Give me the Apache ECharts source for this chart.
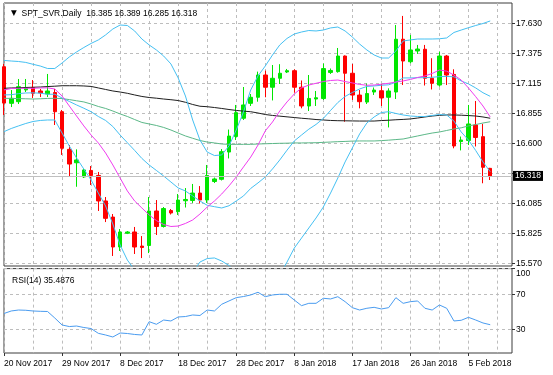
<!DOCTYPE html>
<html><head><meta charset="utf-8">
<script src="https://cdn.jsdelivr.net/npm/echarts@6/dist/echarts.min.js"></script>
<style>html,body{margin:0;padding:0;background:#fff}#c{width:553px;height:375px}</style>
</head><body><div id="c"></div>
<script>
const symbol = 'SPT_SVR.Daily';
const dates = ['20 Nov 2017','21 Nov 2017','22 Nov 2017','23 Nov 2017','24 Nov 2017','26 Nov 2017','27 Nov 2017','28 Nov 2017',
 '29 Nov 2017','30 Nov 2017','1 Dec 2017','3 Dec 2017','4 Dec 2017','5 Dec 2017','6 Dec 2017','7 Dec 2017',
 '8 Dec 2017','10 Dec 2017','11 Dec 2017','12 Dec 2017','13 Dec 2017','14 Dec 2017','15 Dec 2017','17 Dec 2017',
 '18 Dec 2017','19 Dec 2017','20 Dec 2017','21 Dec 2017','22 Dec 2017','24 Dec 2017','26 Dec 2017','27 Dec 2017',
 '28 Dec 2017','29 Dec 2017','31 Dec 2017','2 Jan 2018','3 Jan 2018','4 Jan 2018','5 Jan 2018','7 Jan 2018',
 '8 Jan 2018','9 Jan 2018','10 Jan 2018','11 Jan 2018','12 Jan 2018','14 Jan 2018','15 Jan 2018','16 Jan 2018',
 '17 Jan 2018','18 Jan 2018','19 Jan 2018','21 Jan 2018','22 Jan 2018','23 Jan 2018','24 Jan 2018','25 Jan 2018',
 '26 Jan 2018','28 Jan 2018','29 Jan 2018','30 Jan 2018','31 Jan 2018','1 Feb 2018','2 Feb 2018','4 Feb 2018',
 '5 Feb 2018','6 Feb 2018','7 Feb 2018','8 Feb 2018'];
const padDates = ['', '', ''];

const open = [17.257,16.943,16.957,17.058,17.079,17.049,17.023,17.036,
 16.871,16.548,16.433,16.311,16.367,16.324,16.105,15.967,
 15.710,15.828,15.839,15.718,15.723,16.019,15.886,16.023,
 16.013,16.107,16.109,16.173,16.113,16.272,16.291,16.525,
 16.658,16.815,16.943,16.995,17.186,17.081,17.158,17.212,
 17.223,17.081,16.920,16.980,16.984,17.208,17.215,17.349,
 17.201,17.014,16.954,17.040,17.051,16.995,17.040,17.493,
 17.300,17.392,17.407,17.158,17.100,17.349,17.191,16.615,
 16.624,16.757,16.657,16.385];
const high = [17.281,17.057,17.152,17.152,17.143,17.066,17.195,17.066,
 16.886,16.585,16.548,16.379,16.405,16.354,16.139,15.993,
 15.864,15.847,15.882,15.804,16.139,16.113,16.053,16.036,
 16.165,16.216,16.251,16.233,16.414,16.306,16.551,16.718,
 16.929,17.083,17.023,17.215,17.223,17.272,17.279,17.238,
 17.235,17.139,17.186,17.049,17.285,17.242,17.418,17.354,
 17.281,17.057,17.113,17.079,17.109,17.072,17.615,17.693,
 17.530,17.444,17.444,17.330,17.386,17.358,17.235,16.658,
 16.929,16.963,16.766,16.389];
const low = [16.843,16.911,16.937,17.040,16.989,16.997,16.997,16.757,
 16.500,16.313,16.227,16.302,16.242,16.019,15.924,15.633,
 15.676,15.821,15.650,15.615,15.658,15.813,15.877,15.989,
 15.985,16.049,16.088,16.083,16.088,16.259,16.281,16.470,
 16.628,16.800,16.920,16.957,16.995,16.968,17.109,17.203,
 17.034,16.900,16.877,16.920,16.972,17.195,17.206,16.785,
 16.972,16.900,16.937,17.015,16.920,16.736,16.980,17.100,
 17.287,17.367,17.096,17.062,17.086,17.100,16.557,16.539,
 16.585,16.573,16.257,16.285];
const close = [16.945,16.986,17.086,17.079,17.029,17.032,17.049,16.871,
 16.557,16.422,16.457,16.371,16.324,16.105,15.956,15.710,
 15.839,15.839,15.710,15.706,16.019,15.886,16.040,16.002,
 16.113,16.118,16.173,16.113,16.324,16.294,16.528,16.662,
 16.863,16.929,16.995,17.186,17.081,17.158,17.201,17.223,
 17.081,16.920,16.985,16.991,17.241,17.225,17.349,17.201,
 17.014,16.957,17.027,17.057,16.989,17.049,17.493,17.306,
 17.401,17.409,17.158,17.115,17.349,17.186,16.577,16.628,
 16.766,16.650,16.394,16.318];

const bbUpper = [17.311,17.306,17.302,17.294,17.278,17.263,17.242,17.242,
 17.289,17.341,17.384,17.422,17.457,17.487,17.530,17.581,
 17.615,17.611,17.564,17.495,17.444,17.401,17.349,17.281,
 17.161,17.006,16.800,16.628,16.525,16.495,16.500,16.577,
 16.714,16.869,17.058,17.178,17.263,17.358,17.444,17.500,
 17.538,17.555,17.568,17.564,17.572,17.590,17.598,17.564,
 17.512,17.452,17.401,17.358,17.332,17.332,17.392,17.478,
 17.487,17.495,17.495,17.495,17.497,17.504,17.551,17.572,
 17.592,17.611,17.628,17.650];
const bbMiddle = [17.015,17.017,17.026,17.032,17.033,17.030,17.021,17.021,
 16.989,16.959,16.929,16.901,16.871,16.830,16.796,16.744,
 16.671,16.605,16.539,16.470,16.414,16.367,16.319,16.268,
 16.217,16.191,16.148,16.105,16.068,16.056,16.045,16.064,
 16.105,16.148,16.213,16.260,16.311,16.380,16.457,16.541,
 16.620,16.671,16.721,16.762,16.813,16.882,16.950,17.002,
 17.036,17.066,17.088,17.092,17.098,17.102,17.124,17.161,
 17.161,17.163,17.163,17.167,17.172,17.174,17.171,17.135,
 17.110,17.075,17.034,17.003];
const bbLower = [16.700,16.727,16.749,16.770,16.787,16.796,16.800,16.800,
 16.688,16.577,16.474,16.379,16.285,16.173,16.062,15.907,
 15.727,15.598,15.513,15.444,15.384,15.332,15.289,15.255,
 15.272,15.375,15.495,15.581,15.611,15.616,15.590,15.551,
 15.495,15.427,15.367,15.341,15.358,15.401,15.470,15.581,
 15.701,15.787,15.873,15.959,16.053,16.173,16.302,16.440,
 16.560,16.680,16.774,16.826,16.864,16.871,16.856,16.843,
 16.834,16.830,16.830,16.839,16.847,16.843,16.791,16.697,
 16.628,16.538,16.440,16.356];
const maMagenta = [17.058,17.070,17.072,17.072,17.072,17.075,17.076,17.066,
 17.006,16.920,16.834,16.749,16.671,16.603,16.517,16.414,
 16.302,16.191,16.105,16.045,15.985,15.937,15.903,15.886,
 15.890,15.912,15.942,15.993,16.053,16.105,16.165,16.234,
 16.311,16.397,16.482,16.585,16.706,16.783,16.877,16.955,
 17.023,17.075,17.100,17.115,17.130,17.139,17.143,17.130,
 17.118,17.105,17.098,17.100,17.107,17.115,17.126,17.135,
 17.148,17.165,17.178,17.199,17.229,17.219,17.186,17.143,
 17.075,17.000,16.920,16.826];
const maGreen = [16.986,16.985,16.984,16.982,16.980,16.982,16.985,16.986,
 16.984,16.975,16.965,16.955,16.937,16.916,16.899,16.877,
 16.852,16.830,16.804,16.779,16.766,16.753,16.736,16.714,
 16.688,16.663,16.643,16.624,16.611,16.603,16.594,16.591,
 16.591,16.591,16.591,16.594,16.596,16.598,16.600,16.601,
 16.603,16.603,16.604,16.605,16.608,16.611,16.614,16.616,
 16.619,16.620,16.620,16.620,16.623,16.627,16.632,16.637,
 16.650,16.663,16.676,16.688,16.697,16.710,16.723,16.733,
 16.749,16.761,16.774,16.785];
const maBlack = [17.072,17.075,17.076,17.079,17.081,17.083,17.087,17.090,
 17.094,17.094,17.094,17.092,17.088,17.075,17.062,17.049,
 17.040,17.029,17.015,17.002,16.993,16.987,16.980,16.974,
 16.967,16.952,16.933,16.918,16.914,16.907,16.899,16.890,
 16.882,16.876,16.871,16.860,16.847,16.839,16.833,16.827,
 16.821,16.815,16.810,16.804,16.800,16.796,16.794,16.793,
 16.792,16.791,16.791,16.791,16.795,16.798,16.802,16.805,
 16.809,16.817,16.826,16.834,16.840,16.843,16.843,16.841,
 16.838,16.834,16.826,16.815];
const rsi = [48.4,51.3,52.4,52.1,51.3,50.9,50.7,43.2,
 35.2,33.4,34.0,32.3,31.1,25.6,23.7,21.4,
 26.0,25.4,24.3,23.7,39.0,36.0,40.9,39.8,
 44.4,44.9,46.7,46.1,52.4,51.3,59.0,62.8,
 66.6,67.9,69.7,72.8,67.7,69.7,70.5,70.5,
 63.9,57.4,60.1,60.1,65.9,65.1,67.7,62.0,
 55.1,52.4,54.4,55.5,53.6,55.1,66.6,60.1,
 62.0,62.8,54.4,52.4,58.2,54.4,39.8,40.6,
 44.0,40.9,37.5,35.4876];

const priceTicks = [15.570,15.8275,16.085,16.3425,16.600,16.8575,17.115,17.3725,17.630];
const priceTickLabels = ['15.570','15.825','16.085','','16.600','16.855','17.115','17.375','17.630'];
const rsiTicks = [30,70,100];
const rsiTickLabels = ['30','70','100'];

const FONT = 'Liberation Sans';
const last = close.length - 1;
const f3 = v => v.toFixed(3);
const cats = dates.concat(padDates);
const ohlc = open.map((o, i) => [o, close[i], low[i], high[i]]);

const gridLine = {show:true, lineStyle:{color:'#bdbdbd', type:[3,3], width:1}};
const lab = {fontFamily:FONT, fontSize:8.5, color:'#000'};
const pick = (ticks, labels) => v => {
  const i = ticks.findIndex(t => Math.abs(t - v) < 1e-6);
  return i >= 0 ? labels[i] : '';
};

const chart = echarts.init(document.getElementById('c'), null, {renderer:'canvas'});
chart.setOption({
  animation:false,
  backgroundColor:'#fff',
  title:[
    {left:6, top:4, text:'{tri|▼}  ' + symbol + '  ' + [open[last],high[last],low[last],close[last]].map(f3).join(' '),
     textStyle:Object.assign({fontWeight:'normal', rich:{tri:{fontSize:7.5, fontFamily:'DejaVu Sans', color:'#000'}}}, lab)},
    {left:7, top:271, text:'RSI(14) ' + rsi[last].toFixed(4), textStyle:Object.assign({fontWeight:'normal'}, lab)}
  ],
  grid:[
    {left:4, top:3, width:508, height:263, show:true, borderColor:'#3c3c3c', borderWidth:1, backgroundColor:'#fff'},
    {left:4, top:268.6, width:508, height:84.4, show:true, borderColor:'#3c3c3c', borderWidth:1, backgroundColor:'#fff'}
  ],
  xAxis:[
    {type:'category', gridIndex:0, data:cats, boundaryGap:false,
     axisLine:{show:false}, axisTick:{show:false}, axisLabel:{show:false},
     splitLine:Object.assign({interval:3}, gridLine)},
    {type:'category', gridIndex:1, data:cats, boundaryGap:false,
     axisLine:{show:false}, axisTick:{show:true, interval:7, length:3, lineStyle:{color:'#333'}},
     axisLabel:Object.assign({interval:7, align:'left', margin:6}, lab),
     splitLine:Object.assign({interval:3}, gridLine)}
  ],
  yAxis:[
    {type:'value', gridIndex:0, position:'right', min:15.547, max:17.804,
     axisLine:{show:false},
     axisTick:{show:true, length:3, customValues:priceTicks, lineStyle:{color:'#333'}},
     axisLabel:Object.assign({customValues:priceTicks, margin:4, formatter:pick(priceTicks, priceTickLabels)}, lab),
     splitLine:gridLine},
    {type:'value', gridIndex:1, position:'right', min:3, max:100,
     axisLine:{show:false},
     axisTick:{show:true, length:3, customValues:rsiTicks, lineStyle:{color:'#333'}},
     axisLabel:Object.assign({customValues:rsiTicks, margin:4,
       formatter:v => { const s = pick(rsiTicks, rsiTickLabels)(v); return s === '100' ? '{t|100}' : s; },
       rich:{t:{padding:[11,0,0,0], fontFamily:FONT, fontSize:8.5, color:'#000'}}}, lab),
     splitLine:gridLine}
  ],
  series:[
    {type:'candlestick', xAxisIndex:0, yAxisIndex:0, data:ohlc, barWidth:4, z:2,
     itemStyle:{color:'#00e600', color0:'#ff0000', borderColor:'#00e600', borderColor0:'#ff0000', borderWidth:1},
     markLine:{silent:true, symbol:['none','none'], animation:false,
       data:[{yAxis:close[last]}],
       lineStyle:{color:'#c0c0c0', type:'solid', width:1},
       label:{position:'end', distance:1, formatter:f3(close[last]), backgroundColor:'#000', color:'#fff',
              padding:[1,2,0,2], fontFamily:FONT, fontSize:8.5}}},
    {type:'line', xAxisIndex:0, yAxisIndex:0, data:maBlack, showSymbol:false, z:3, lineStyle:{color:'#1e1e1e', width:1}},
    {type:'line', xAxisIndex:0, yAxisIndex:0, data:maGreen, showSymbol:false, z:3, lineStyle:{color:'#5cb888', width:1}},
    {type:'line', xAxisIndex:0, yAxisIndex:0, data:bbUpper, showSymbol:false, z:3, lineStyle:{color:'#45c0f2', width:1}},
    {type:'line', xAxisIndex:0, yAxisIndex:0, data:bbMiddle, showSymbol:false, z:3, lineStyle:{color:'#45c0f2', width:1}},
    {type:'line', xAxisIndex:0, yAxisIndex:0, data:bbLower, showSymbol:false, z:3, lineStyle:{color:'#45c0f2', width:1}},
    {type:'line', xAxisIndex:0, yAxisIndex:0, data:maMagenta, showSymbol:false, z:3, lineStyle:{color:'#f03cf0', width:1}},
    {type:'line', xAxisIndex:1, yAxisIndex:1, data:rsi, showSymbol:false, z:3, lineStyle:{color:'#4a9cf0', width:1}}
  ]
});
</script></body></html>
